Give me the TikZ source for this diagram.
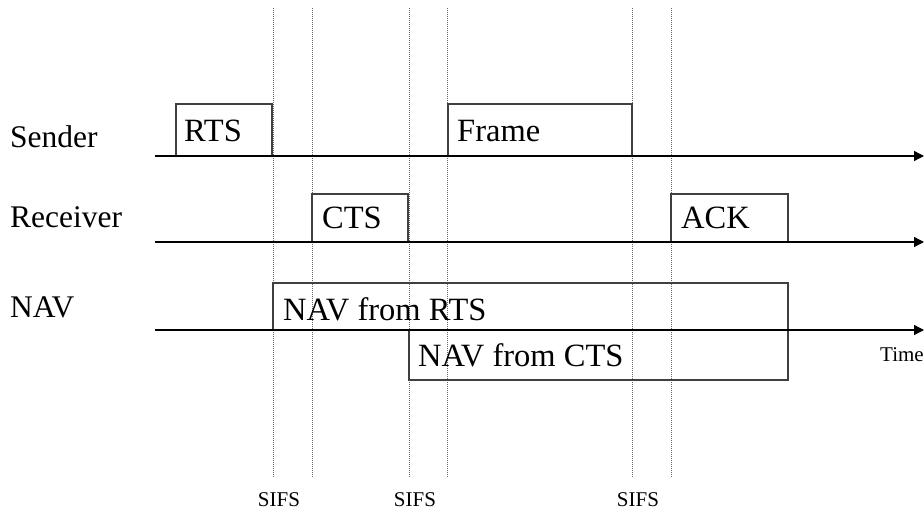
\documentclass[tikz,border=0pt]{standalone}
\usepackage{fontspec}
\setmainfont{Liberation Serif}
\usetikzlibrary{arrows.meta}
\begin{document}
\begin{tikzpicture}[x=1pt,y=-1pt,
  axis/.style={draw=black,line width=1.3pt,-{Triangle[length=10pt,width=10pt]}},
  tbox/.style={draw=black!75,line width=1.1pt,fill=none,anchor=south west,inner sep=0pt,outer sep=0pt},
  guide/.style={draw=black!60,line width=0.8pt,dash pattern=on 1pt off 1pt},
  big/.style={font=\fontsize{32.5}{36}\selectfont,anchor=base west,inner sep=0pt},
  lbl/.style={font=\fontsize{31.5}{36}\selectfont,anchor=base west,inner sep=0pt},
  small/.style={font=\fontsize{21}{24}\selectfont,anchor=base,inner sep=0pt}]
\useasboundingbox (0,0) rectangle (924,510);
\fill[white] (0,0) rectangle (924,510);
% guide lines
\foreach \n/\x in {g1/273,g2/312,g3/409,g4/447,g5/632,g6/671}{
  \coordinate (\n t) at (\x,8);
  \coordinate (\n b) at (\x,478);
  \draw[guide] (\n t) -- (\n b);
}
% boxes
\node[tbox,minimum width=96,minimum height=52] (rts) at (176,156) {};
\node[tbox,minimum width=184,minimum height=52] (frame) at (448,156) {};
\node[tbox,minimum width=96,minimum height=48] (cts) at (312,242) {};
\node[tbox,minimum width=117,minimum height=48] (ack) at (671,242) {};
\node[tbox,minimum width=515,minimum height=47] (navr) at (273,330) {};
\node[tbox,minimum width=379,minimum height=50] (navc) at (409,380) {};
% box texts
\node[big] (rtst) at ([xshift=8pt,yshift=14pt]rts.south west) {RTS};
\node[big] (framet) at ([xshift=9pt,yshift=14pt]frame.south west) {Frame};
\node[big] (ctst) at ([xshift=10pt,yshift=13pt]cts.south west) {CTS};
\node[big] (ackt) at ([xshift=10pt,yshift=13pt]ack.south west) {ACK};
\node[big] (navrt) at ([xshift=10pt,yshift=9pt]navr.south west) {NAV from RTS};
\node[big] (navct) at ([xshift=9pt,yshift=13pt]navc.south west) {NAV from CTS};
% axes
\coordinate (s0) at (155,156); \coordinate (s1) at (924,156);
\coordinate (r0) at (155,242); \coordinate (r1) at (924,242);
\coordinate (n0) at (155,330); \coordinate (n1) at (924,330);
\draw[axis] (s0) -- (s1);
\draw[axis] (r0) -- (r1);
\draw[axis] (n0) -- (n1);
% row labels
\node[lbl] (sender) at (10,148) {Sender};
\node[lbl] (receiver) at (10,228) {Receiver};
\node[lbl] (nav) at (10,318) {NAV};
\node[small,anchor=base west] (time) at (880,362) {Time};
% SIFS labels
\node[small] (sifs1) at (279,506) {SIFS};
\node[small] (sifs2) at (415,506) {SIFS};
\node[small] (sifs3) at (638,506) {SIFS};
\end{tikzpicture}
\end{document}
